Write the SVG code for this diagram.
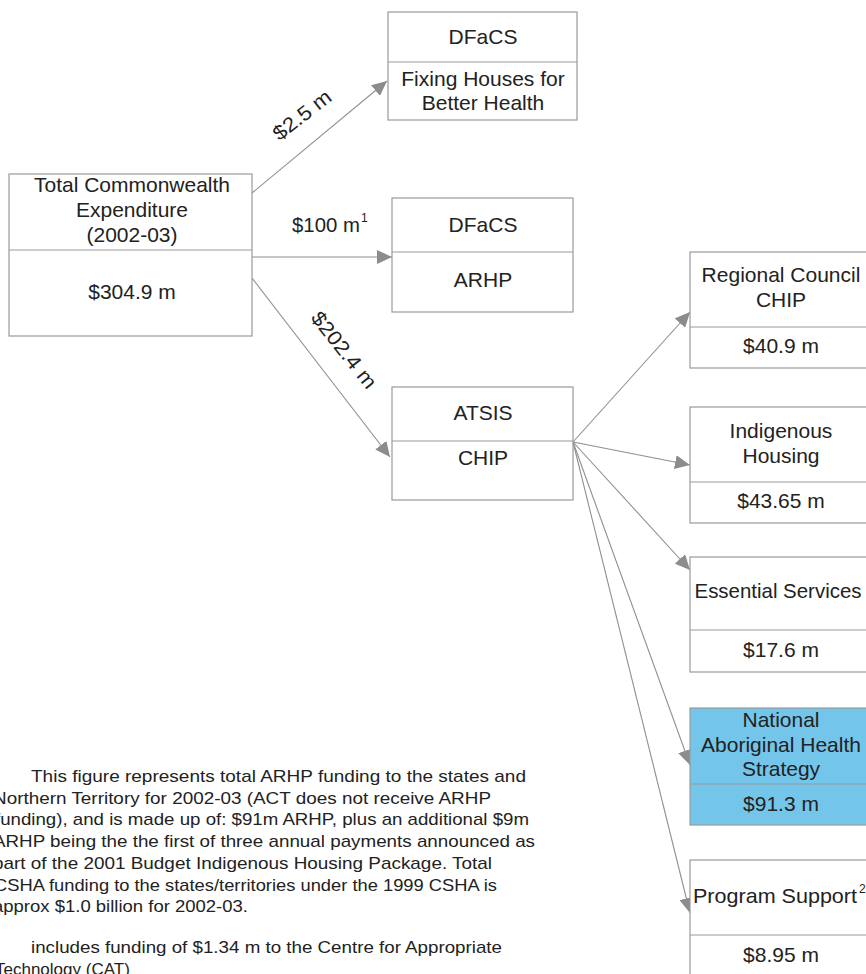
<svg xmlns="http://www.w3.org/2000/svg" width="866" height="974" viewBox="0 0 866 974">
<defs>
<style>
.box{fill:#fff;stroke:#9a9a9a;stroke-width:1.2}
.blue{fill:#74C5EA;stroke:#9a9a9a;stroke-width:1.2}
.div{stroke:#9a9a9a;stroke-width:1.2}
.t{font-family:"Liberation Sans",Arial,sans-serif;font-size:21px;fill:#222;text-anchor:middle}
.lbl{font-family:"Liberation Sans",Arial,sans-serif;font-size:20.5px;fill:#222;text-anchor:middle}
.sup{font-family:"Liberation Sans",Arial,sans-serif;font-size:12px;fill:#222}
.fn{font-family:"Liberation Sans",Arial,sans-serif;font-size:17px;fill:#222}
.con{stroke:#8f8f8f;stroke-width:1.1;fill:none;marker-end:url(#ah)}
</style>
<marker id="ah" markerUnits="userSpaceOnUse" markerWidth="16" markerHeight="14" refX="15" refY="7" orient="auto">
<path d="M0,0 L15,7 L0,14 Z" fill="#8c8c8e"/>
</marker>
</defs>
<rect width="866" height="974" fill="#fff"/>

<g id="connectors">
<line class="con" x1="252" y1="193" x2="387" y2="81"/>
<line class="con" x1="252" y1="257" x2="392" y2="257"/>
<line class="con" x1="252" y1="278" x2="390" y2="457"/>
<line class="con" x1="573" y1="442" x2="690" y2="312"/>
<line class="con" x1="573" y1="442" x2="690" y2="465"/>
<line class="con" x1="573" y1="442" x2="690" y2="570"/>
<line class="con" x1="573" y1="442" x2="690" y2="765"/>
<line class="con" x1="573" y1="442" x2="690" y2="913"/>
<g transform="translate(302,115) rotate(-38)"><text class="lbl" x="0" y="7" textLength="68" lengthAdjust="spacingAndGlyphs">$2.5 m</text></g>
<text class="lbl" x="292" y="232" style="text-anchor:start" textLength="68" lengthAdjust="spacingAndGlyphs">$100 m</text>
<text class="sup" x="361" y="222">1</text>
<g transform="translate(344,350) rotate(51.5)"><text class="lbl" x="0" y="7" textLength="92" lengthAdjust="spacingAndGlyphs">$202.4 m</text></g>
</g>

<g id="total">
<rect class="box" x="9" y="174" width="243" height="162"/>
<line class="div" x1="9" y1="250" x2="252" y2="250"/>
<text class="t" x="132" y="192">Total Commonwealth</text>
<text class="t" x="132" y="217">Expenditure</text>
<text class="t" x="132" y="242">(2002-03)</text>
<text class="t" x="132" y="299">$304.9 m</text>
</g>

<g id="dfacs-fixing">
<rect class="box" x="388" y="12" width="189" height="108"/>
<line class="div" x1="388" y1="62" x2="577" y2="62"/>
<text class="t" x="483" y="44">DFaCS</text>
<text class="t" x="483" y="86">Fixing Houses for</text>
<text class="t" x="483" y="110">Better Health</text>
</g>

<g id="dfacs-arhp">
<rect class="box" x="392" y="198" width="181" height="114"/>
<line class="div" x1="392" y1="252" x2="573" y2="252"/>
<text class="t" x="483" y="232">DFaCS</text>
<text class="t" x="483" y="287">ARHP</text>
</g>

<g id="atsis">
<rect class="box" x="392" y="387" width="181" height="113"/>
<line class="div" x1="392" y1="441" x2="573" y2="441"/>
<text class="t" x="483" y="420">ATSIS</text>
<text class="t" x="483" y="465">CHIP</text>
</g>

<g id="regional">
<rect class="box" x="690" y="252" width="182" height="116"/>
<line class="div" x1="690" y1="327" x2="872" y2="327"/>
<text class="t" x="781" y="282">Regional Council</text>
<text class="t" x="781" y="307">CHIP</text>
<text class="t" x="781" y="353">$40.9 m</text>
</g>

<g id="indigenous">
<rect class="box" x="690" y="407" width="182" height="116"/>
<line class="div" x1="690" y1="482" x2="872" y2="482"/>
<text class="t" x="781" y="438">Indigenous</text>
<text class="t" x="781" y="463">Housing</text>
<text class="t" x="781" y="508">$43.65 m</text>
</g>

<g id="essential">
<rect class="box" x="690" y="557" width="182" height="115"/>
<line class="div" x1="690" y1="630" x2="872" y2="630"/>
<text class="t" x="778" y="598" textLength="167" lengthAdjust="spacingAndGlyphs">Essential Services</text>
<text class="t" x="781" y="657">$17.6 m</text>
</g>

<g id="national">
<rect class="blue" x="690" y="708" width="182" height="117"/>
<line class="div" x1="690" y1="784" x2="872" y2="784"/>
<text class="t" x="781" y="727">National</text>
<text class="t" x="781" y="752">Aboriginal Health</text>
<text class="t" x="781" y="776">Strategy</text>
<text class="t" x="781" y="811">$91.3 m</text>
</g>

<g id="program">
<rect class="box" x="690" y="860" width="182" height="130"/>
<line class="div" x1="690" y1="935" x2="872" y2="935"/>
<text class="t" x="693" y="903" style="text-anchor:start" textLength="164" lengthAdjust="spacingAndGlyphs">Program Support</text>
<text class="sup" x="859" y="893">2</text>
<text class="t" x="781" y="962">$8.95 m</text>
</g>

<g id="footnotes">
<text class="fn" x="31" y="782" textLength="495" lengthAdjust="spacingAndGlyphs">This figure represents total ARHP funding to the states and</text>
<text class="fn" x="-7" y="803.7" textLength="498" lengthAdjust="spacingAndGlyphs">Northern Territory for 2002-03 (ACT does not receive ARHP</text>
<text class="fn" x="-5" y="825.4" textLength="534" lengthAdjust="spacingAndGlyphs">funding), and is made up of: $91m ARHP, plus an additional $9m</text>
<text class="fn" x="-7" y="847.1" textLength="542" lengthAdjust="spacingAndGlyphs">ARHP being the the first of three annual payments announced as</text>
<text class="fn" x="-7" y="868.8" textLength="499" lengthAdjust="spacingAndGlyphs">part of the 2001 Budget Indigenous Housing Package.  Total</text>
<text class="fn" x="-6" y="890.5" textLength="503" lengthAdjust="spacingAndGlyphs">CSHA funding to the states/territories under the 1999 CSHA is</text>
<text class="fn" x="-7" y="912.2" textLength="255" lengthAdjust="spacingAndGlyphs">approx $1.0 billion for 2002-03.</text>
<text class="fn" x="31" y="953" textLength="471" lengthAdjust="spacingAndGlyphs">includes funding of $1.34 m to the Centre for Appropriate</text>
<text class="fn" x="-5" y="975">Technology (CAT)</text>
</g>
</svg>
